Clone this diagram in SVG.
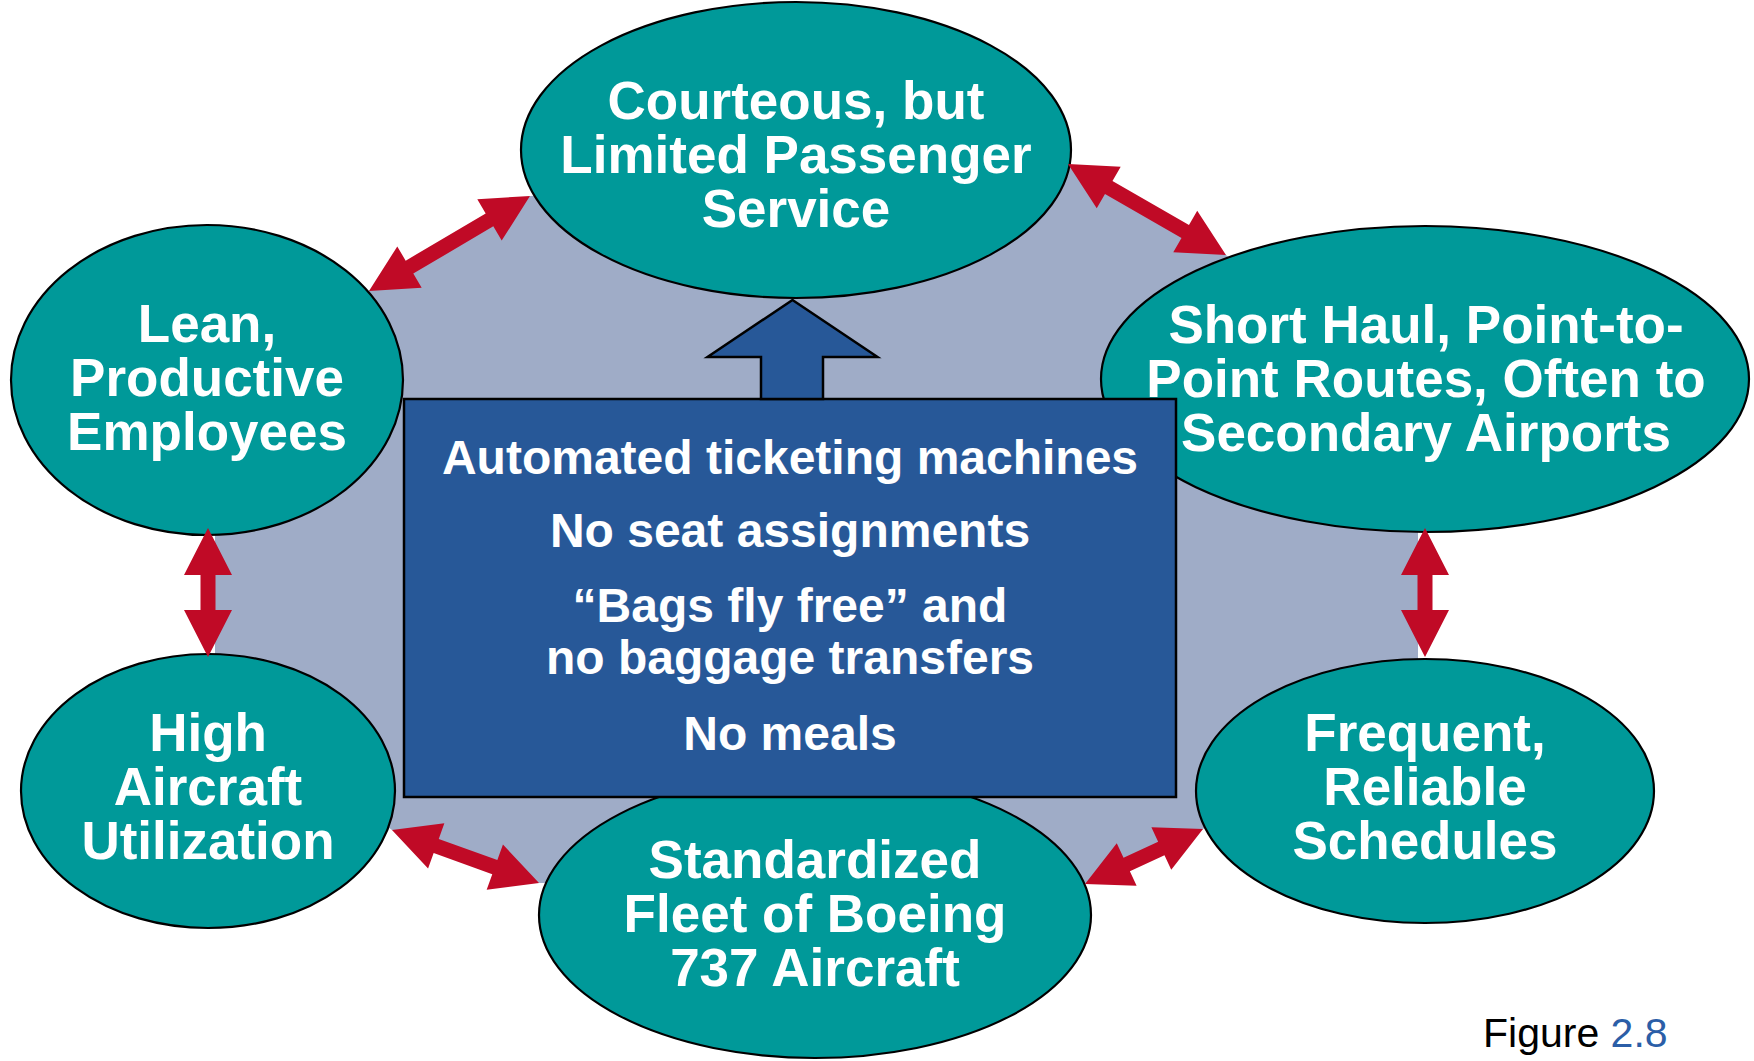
<svg xmlns="http://www.w3.org/2000/svg" width="1754" height="1061" viewBox="0 0 1754 1061">
<defs>
<style>
.node{fill:#009999;stroke:#000;stroke-width:2.2}
.nt{font-family:"Liberation Sans",Arial,sans-serif;font-weight:bold;font-size:53px;fill:#fff;text-anchor:middle}
.bt{font-family:"Liberation Sans",Arial,sans-serif;font-weight:bold;font-size:48px;fill:#fff;text-anchor:middle}
.conn{fill:#C00A26}
.bluebox{fill:#275898;stroke:#000;stroke-width:2.5}
</style>
</defs>
<rect width="1754" height="1061" fill="#fff"/>
<polygon id="backdrop" points="369,291 530,196 1068,164 1226,255 1418,420 1418,700 1203,829 1085,884 539,883 392,830 215,700 215,420" fill="#9FACC7"/>

<g id="node-service">
<ellipse class="node" cx="796" cy="150" rx="275" ry="148"/>
<text class="nt" x="796" y="119">Courteous, but</text>
<text class="nt" x="796" y="173">Limited Passenger</text>
<text class="nt" x="796" y="227">Service</text>
</g>
<g id="node-employees">
<ellipse class="node" cx="207" cy="380" rx="196" ry="155"/>
<text class="nt" x="207" y="342">Lean,</text>
<text class="nt" x="207" y="396">Productive</text>
<text class="nt" x="207" y="450">Employees</text>
</g>
<g id="node-routes">
<ellipse class="node" cx="1425" cy="379" rx="324" ry="153"/>
<text class="nt" x="1426" y="343">Short Haul, Point-to-</text>
<text class="nt" x="1426" y="397">Point Routes, Often to</text>
<text class="nt" x="1426" y="451">Secondary Airports</text>
</g>
<g id="node-utilization">
<ellipse class="node" cx="208" cy="791" rx="187" ry="137"/>
<text class="nt" x="208" y="751">High</text>
<text class="nt" x="208" y="805">Aircraft</text>
<text class="nt" x="208" y="859">Utilization</text>
</g>
<g id="node-schedules">
<ellipse class="node" cx="1425" cy="791" rx="229" ry="132"/>
<text class="nt" x="1425" y="751">Frequent,</text>
<text class="nt" x="1425" y="805">Reliable</text>
<text class="nt" x="1425" y="859">Schedules</text>
</g>
<g id="node-fleet">
<ellipse class="node" cx="815" cy="915" rx="276" ry="143"/>
<text class="nt" x="815" y="878">Standardized</text>
<text class="nt" x="815" y="932">Fleet of Boeing</text>
<text class="nt" x="815" y="986">737 Aircraft</text>
</g>

<g id="node-practices">
<rect class="bluebox" x="404" y="399" width="772" height="398"/>
<text class="bt" x="790" y="474">Automated ticketing machines</text>
<text class="bt" x="790" y="547">No seat assignments</text>
<text class="bt" x="790" y="622">“Bags fly free” and</text>
<text class="bt" x="790" y="674">no baggage transfers</text>
<text class="bt" x="790" y="750">No meals</text>
</g>

<g id="connectors">
<path class="bluebox" stroke-width="2" d="M792.5,300 L877.5,357 L823,357 L823,399 L761,399 L761,357 L707.5,357 Z"/>
<path class="conn" transform="translate(369,291) rotate(-30.54)" d="M0,0 L47,-24 L47,-7.5 L139.9,-7.5 L139.9,-24 L186.9,0 L139.9,24 L139.9,7.5 L47,7.5 L47,24 Z"/>
<path class="conn" transform="translate(1068,164) rotate(29.94)" d="M0,0 L47,-24 L47,-7.5 L135.3,-7.5 L135.3,-24 L182.3,0 L135.3,24 L135.3,7.5 L47,7.5 L47,24 Z"/>
<path class="conn" transform="translate(208,528) rotate(90)" d="M0,0 L47,-24 L47,-7.5 L82,-7.5 L82,-24 L129,0 L82,24 L82,7.5 L47,7.5 L47,24 Z"/>
<path class="conn" transform="translate(1425,528) rotate(90)" d="M0,0 L47,-24 L47,-7.5 L82,-7.5 L82,-24 L129,0 L82,24 L82,7.5 L47,7.5 L47,24 Z"/>
<path class="conn" transform="translate(392,830) rotate(19.83)" d="M0,0 L47,-24 L47,-7.5 L109.3,-7.5 L109.3,-24 L156.3,0 L109.3,24 L109.3,7.5 L47,7.5 L47,24 Z"/>
<path class="conn" transform="translate(1085,884) rotate(-24.99)" d="M0,0 L46,-23.5 L46,-7.5 L84.2,-7.5 L84.2,-23.5 L130.2,0 L84.2,23.5 L84.2,7.5 L46,7.5 L46,23.5 Z"/>
</g>

<text id="caption" x="1483" y="1047" font-family="'Liberation Sans',Arial,sans-serif" font-size="41" fill="#000">Figure <tspan fill="#2B5EA7">2.8</tspan></text>
</svg>
